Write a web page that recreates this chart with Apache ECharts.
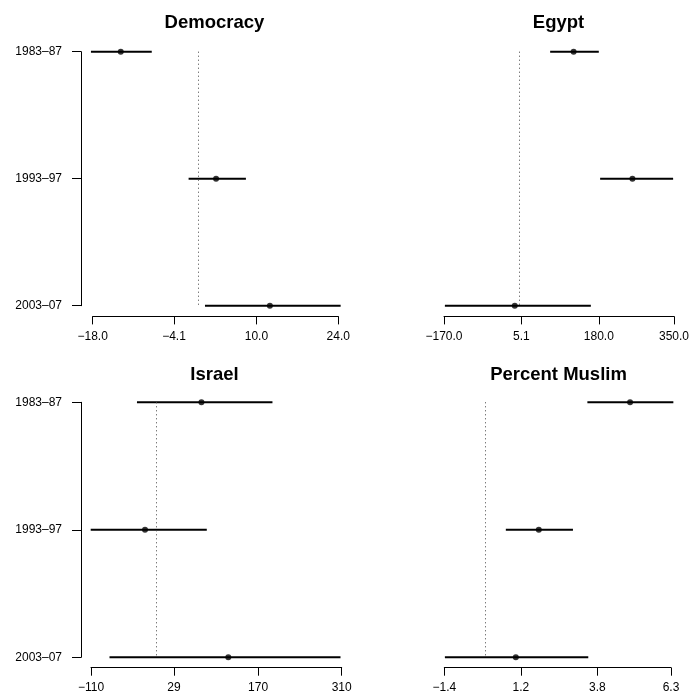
<!DOCTYPE html>
<html><head><meta charset="utf-8">
<script src="https://cdn.jsdelivr.net/npm/echarts@6/dist/echarts.min.js"></script>
<style>html,body{margin:0;padding:0;background:#fff}#c{width:691px;height:694px}</style>
</head><body><div id="c"></div>
<script>
const categories = ['1983–87', '1993–97', '2003–07'];
const panelTitles = ['Democracy', 'Egypt', 'Israel', 'Percent Muslim'];

const democracyEst = [-13.2, 3.1, 12.3];
const democracyLo = [-18.3, -1.6, 1.2];
const democracyHi = [-7.9, 8.2, 24.4];

const egyptEst = [123, 256, -10];
const egyptLo = [70, 183, -168];
const egyptHi = [180, 348, 162];

const israelEst = [75, -19.5, 120];
const israelLo = [-33, -110.5, -79];
const israelHi = [194, 84, 308];

const muslimEst = [4.91, 1.81, 1.03];
const muslimLo = [3.46, 0.69, -1.38];
const muslimHi = [6.38, 2.97, 3.49];

const democracyTicks = [-18.0, -4.1, 10.0, 24.0];
const democracyTickLabels = ['−18.0', '−4.1', '10.0', '24.0'];
const egyptTicks = [-170.0, 5.1, 180.0, 350.0];
const egyptTickLabels = ['−170.0', '5.1', '180.0', '350.0'];
const israelTicks = [-110, 29, 170, 310];
const israelTickLabels = ['−110', '29', '170', '310'];
const muslimTicks = [-1.4, 1.2, 3.8, 6.3];
const muslimTickLabels = ['−1.4', '1.2', '3.8', '6.3'];

const panels = [
  {est: democracyEst, lo: democracyLo, hi: democracyHi, ticks: democracyTicks, labels: democracyTickLabels,
   grid: {left: 92.7, top: 51.7, width: 245.6, height: 254}, showY: true, yOff: 11.7, xOff: 10.7, tx: 214.5, ty: 22.5},
  {est: egyptEst, lo: egyptLo, hi: egyptHi, ticks: egyptTicks, labels: egyptTickLabels,
   grid: {left: 444, top: 51.7, width: 230, height: 254}, showY: false, yOff: 0, xOff: 10.7, tx: 558.5, ty: 22.5},
  {est: israelEst, lo: israelLo, hi: israelHi, ticks: israelTicks, labels: israelTickLabels,
   grid: {left: 91, top: 402.3, width: 250.7, height: 255}, showY: true, yOff: 10, xOff: 10.4, tx: 214.5, ty: 375},
  {est: muslimEst, lo: muslimLo, hi: muslimHi, ticks: muslimTicks, labels: muslimTickLabels,
   grid: {left: 444.3, top: 402.3, width: 226.7, height: 255}, showY: false, yOff: 0, xOff: 10.4, tx: 558.5, ty: 375}
];

const FONT = "'Liberation Sans', Arial, Helvetica, sans-serif";
const grids = [], xAxes = [], yAxes = [], series = [], graphics = [];

panels.forEach((p, i) => {
  grids.push(Object.assign({outerBoundsMode: 'none', containLabel: false}, p.grid));
  const ticks = p.ticks, labels = p.labels;
  xAxes.push({
    type: 'value', gridIndex: i,
    min: ticks[0], max: ticks[ticks.length - 1],
    offset: p.xOff,
    axisLine: {show: true, onZero: false, lineStyle: {color: '#000', width: 1}},
    axisTick: {show: true, length: 8, customValues: ticks, lineStyle: {color: '#000', width: 1}},
    axisLabel: {
      show: true, customValues: ticks, margin: 14, fontSize: 12, color: '#000', fontFamily: FONT,
      showMinLabel: true, showMaxLabel: true,
      formatter: function (v) {
        for (let k = 0; k < ticks.length; k++) if (Math.abs(ticks[k] - v) < 1e-6) return labels[k];
        return '';
      }
    },
    splitLine: {show: false}
  });
  yAxes.push({
    type: 'category', gridIndex: i, data: categories, inverse: true, boundaryGap: false,
    show: p.showY, offset: p.yOff,
    axisLine: {show: true, onZero: false, lineStyle: {color: '#000', width: 1}},
    axisTick: {show: true, length: 9, interval: 0, lineStyle: {color: '#000', width: 1}},
    axisLabel: {show: true, interval: 0, margin: 19, fontSize: 12, color: '#000', fontFamily: FONT},
    splitLine: {show: false}
  });
  const barData = categories.map((c, k) => [p.lo[k], p.hi[k], p.est[k], k]);
  series.push({
    type: 'custom', xAxisIndex: i, yAxisIndex: i, clip: false, silent: true, animation: false,
    encode: {x: [0, 1], y: 3},
    data: barData,
    renderItem: function (params, api) {
      const a = api.coord([api.value(0), api.value(3)]);
      const b = api.coord([api.value(1), api.value(3)]);
      return {type: 'line', shape: {x1: a[0], y1: a[1], x2: b[0], y2: b[1]},
              style: {stroke: '#000', lineWidth: 2}};
    }
  });
  series.push({
    type: 'scatter', xAxisIndex: i, yAxisIndex: i, clip: false, silent: true, animation: false,
    symbol: 'circle', symbolSize: 6, itemStyle: {color: '#000'},
    data: categories.map((c, k) => [p.est[k], k]),
    markLine: {
      silent: true, animation: false, symbol: ['none', 'none'],
      label: {show: false},
      lineStyle: {type: [1, 3], color: '#444', width: 1},
      data: [{xAxis: 0}]
    }
  });
  graphics.push({
    type: 'text', x: p.tx, y: p.ty, silent: true,
    style: {text: panelTitles[i], fill: '#000', font: 'bold 18.5px ' + FONT,
            textAlign: 'center', textVerticalAlign: 'middle'}
  });
});

const chart = echarts.init(document.getElementById('c'), null, {renderer: 'canvas'});
chart.setOption({
  animation: false,
  backgroundColor: '#fff',
  grid: grids, xAxis: xAxes, yAxis: yAxes, series: series, graphic: graphics
});
</script></body></html>
